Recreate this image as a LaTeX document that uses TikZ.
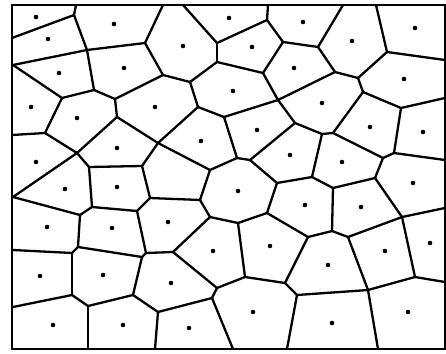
\documentclass[tikz,border=0pt]{standalone}
\usepackage{tikz}

\begin{document}
\begin{tikzpicture}[x=1pt,y=-1pt,
  edge/.style={line width=2.3pt, line cap=round, line join=round},
  frame/.style={line width=1.8pt},
  site/.style={circle, fill, inner sep=0pt, minimum size=4.6pt}]
\useasboundingbox (0,0) rectangle (446,353);
\draw[frame] (12,5) rectangle (445,349);
\foreach \n/\x/\y in {1/76/5, 2/74/15, 3/12/38, 4/87/50, 5/13/65, 6/145/43, 7/163/5, 8/183/5,
  9/217/43, 10/267/20, 11/268/5, 12/283/42, 13/217/62, 14/263/73, 15/318/47, 16/343/5,
  17/335/72, 18/358/78, 19/387/52, 20/376/5, 21/445/60, 22/363/92, 23/401/108, 24/445/98,
  25/278/100, 26/163/75, 27/190/82, 28/198/107, 29/224/117, 30/115/99, 31/94/90, 32/62/98,
  33/45/133, 34/12/135, 35/117/117, 36/77/153, 37/158/143, 38/142/166, 39/89/167, 40/13/197,
  41/237/158, 42/250/160, 43/295/123, 44/322/134, 45/333/133, 46/383/158, 47/394/153, 48/445/160,
  49/312/177, 50/375/178, 51/333/188, 52/277/183, 53/210/170, 54/200/200, 55/150/198, 56/92/207,
  57/80/215, 58/137/211, 59/402/217, 60/445/208, 61/332/231, 62/308/237, 63/348/237, 64/267/213,
  65/238/223, 66/210/217, 68/245/277, 69/285/283, 70/297/295, 71/368/290, 72/415/277,
  73/445/282, 74/378/349, 75/287/349, 76/217/288, 77/212/298, 78/233/349, 79/158/312, 80/155/349,
  81/173/252, 82/146/253, 83/142/257, 84/133/295, 85/88/306, 86/88/349, 87/72/295, 88/13/307,
  89/72/253, 90/78/247, 91/13/250}
  \coordinate (v\n) at (\x,\y);
\foreach \a/\b in {1/2, 2/3, 2/4, 4/5, 4/6, 6/7, 6/26, 4/31, 31/32, 32/5, 31/30, 30/26, 30/35,
  26/27, 27/13, 13/9, 9/8, 9/10, 10/11, 10/12, 12/15, 12/14, 13/14, 14/25, 27/28, 28/29, 28/37,
  29/25, 29/41, 25/17, 25/43, 15/16, 15/17, 17/18, 18/19, 19/20, 19/21, 18/22, 22/23, 23/24,
  22/45, 23/47, 47/48, 47/46, 45/46, 45/44, 44/43, 43/42, 42/41, 41/53, 42/52, 44/49, 49/52,
  49/51, 46/50, 50/51, 50/59, 59/60, 59/63, 59/72, 51/61, 61/62, 61/63, 63/71, 52/64, 64/65,
  64/62, 62/69, 69/68, 69/70, 70/71, 70/75, 71/72, 71/74, 72/73, 65/66, 65/68, 66/54, 54/53,
  53/37, 54/55, 55/38, 38/37, 37/35, 38/39, 39/36, 36/35, 36/33, 33/32, 33/34, 36/40, 39/56,
  56/58, 58/55, 56/57, 57/40, 57/90, 90/89, 89/91, 89/87, 90/83, 83/84, 83/82, 82/58, 82/81,
  81/66, 81/76, 76/68, 76/77, 77/78, 77/79, 79/84, 79/80, 84/85, 85/87, 85/86, 87/88}
  \draw[edge] (v\a) -- (v\b);
\foreach \x/\y [count=\i] in {36/17, 48/39, 59/73, 114/24, 124/68, 183/46, 229/18, 252/47,
  303/22, 352/41, 415/28, 294/68, 233/91, 322/103, 404/79, 155/107, 77/118, 31/107, 257/130,
  201/141, 117/148, 36/162, 370/127, 423/132, 290/155, 342/162, 65/189, 117/187, 168/222,
  238/191, 305/205, 361/207, 413/183, 47/227, 112/228, 213/251, 270/246, 328/265, 385/251,
  430/243, 40/276, 103/275, 171/283, 253/312, 332/323, 408/312, 53/325, 123/325, 189/328}
  \node[site] (s\i) at (\x,\y) {};
\end{tikzpicture}
\end{document}
